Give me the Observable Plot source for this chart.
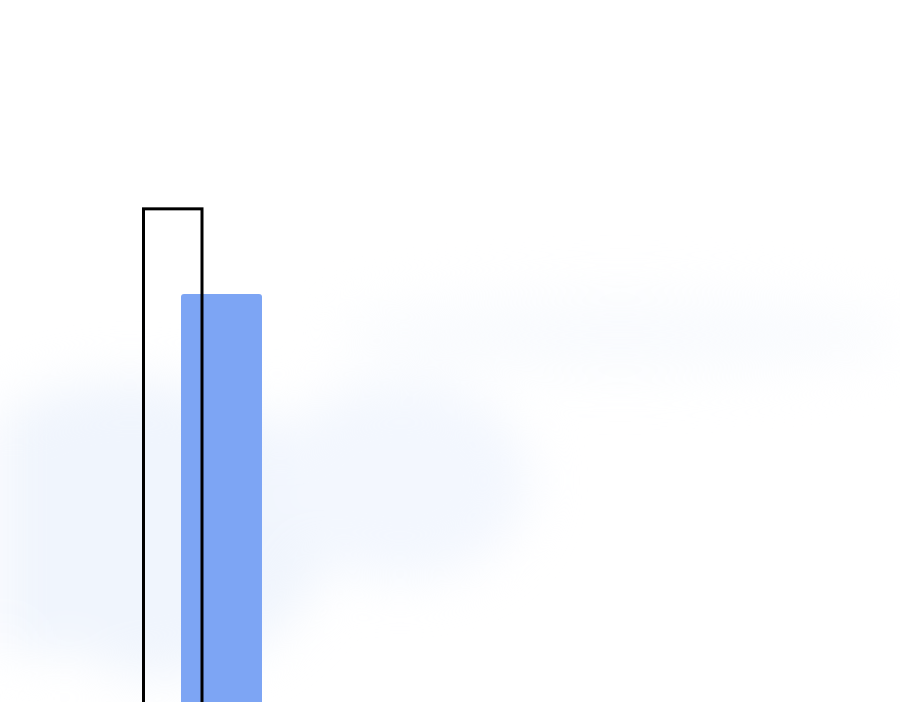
<!DOCTYPE html>
<html>
<head>
<meta charset="utf-8">
<script src="https://cdn.jsdelivr.net/npm/d3@7"></script>
<script src="https://cdn.jsdelivr.net/npm/@observablehq/plot@0.6"></script>
<style>
  html, body { margin: 0; padding: 0; overflow: hidden; background: #ffffff; }
  #wrap { position: relative; width: 900px; height: 702px; overflow: hidden; }
  #bg { position: absolute; left: 0; top: 0; width: 900px; height: 702px; filter: blur(25px); }
  #chart { position: absolute; left: 0; top: 0; }
</style>
</head>
<body>
<div id="wrap">
  <svg id="bg" width="900" height="702">
    <ellipse cx="130" cy="530" rx="200" ry="150" fill="#f0f5fd"/>
    <ellipse cx="400" cy="480" rx="130" ry="100" fill="#f3f7fe"/>
    <ellipse cx="620" cy="335" rx="280" ry="40" fill="#f9fbfe"/>
    <ellipse cx="40" cy="690" rx="90" ry="40" fill="#ffffff"/>
  </svg>
  <div id="chart"></div>
</div>
<script>
// Series and values
const series = ["Target", "Actual"];
const xStart = [1.435, 1.81];
const xEnd = [2.02, 2.62];
const values = [76.2, 66.5];

const data = series.map((s, i) => ({series: s, x1: xStart[i], x2: xEnd[i], value: values[i]}));
const target = data.filter(d => d.series === "Target");
const actual = data.filter(d => d.series === "Actual");

const plot = Plot.plot({
  width: 900,
  height: 702,
  margin: 0,
  style: {background: "transparent"},
  x: {domain: [0, 9], axis: null},
  y: {domain: [20, 100], axis: null},
  marks: [
    Plot.rectY(actual, {x1: "x1", x2: "x2", y1: 0, y2: "value", fill: "#7da5f4", rx: 3, clip: true}),
    Plot.rectY(target, {x1: "x1", x2: "x2", y1: 0, y2: "value", fill: "none", stroke: "#000000", strokeWidth: 3, clip: true})
  ]
});
document.getElementById("chart").appendChild(plot);
</script>
</body>
</html>
